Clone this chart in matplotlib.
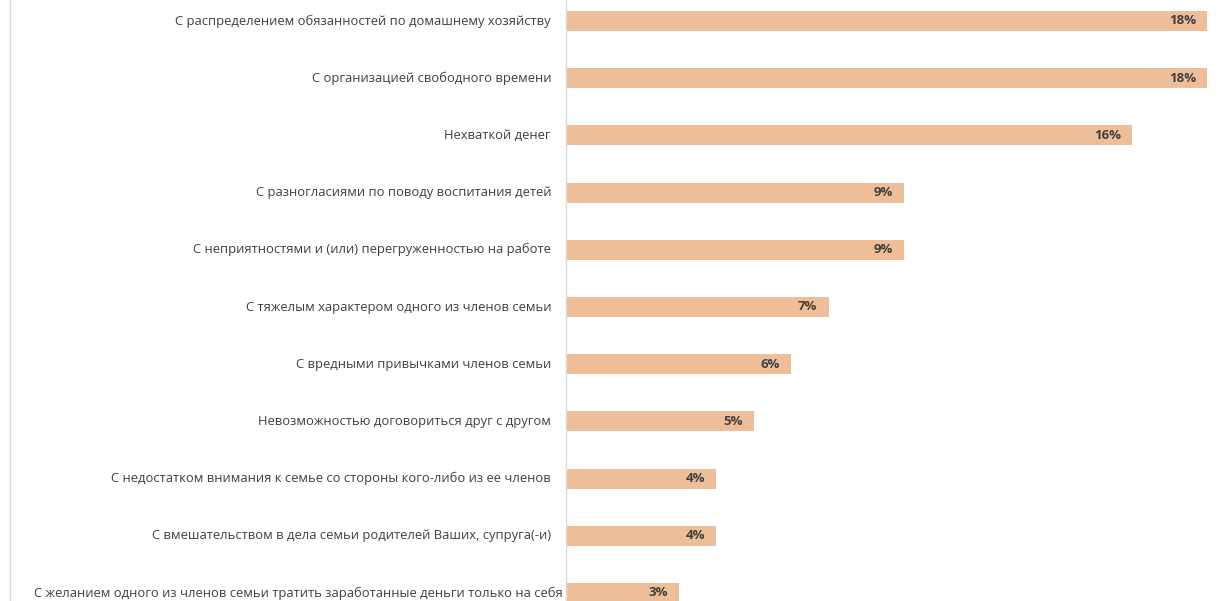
import matplotlib
matplotlib.use("Agg")
import matplotlib.pyplot as plt
from matplotlib.lines import Line2D

plt.rcParams["font.family"] = ["Open Sans", "DejaVu Sans"]

# --- data (top to bottom) ---
categories = [
    "С распределением обязанностей по домашнему хозяйству",
    "С организацией свободного времени",
    "Нехваткой денег",
    "С разногласиями по поводу воспитания детей",
    "С неприятностями и (или) перегруженностью на работе",
    "С тяжелым характером одного из членов семьи",
    "С вредными привычками членов семьи",
    "Невозможностью договориться друг с другом",
    "С недостатком внимания к семье со стороны кого-либо из ее членов",
    "С вмешательством в дела семьи родителей Ваших, супруга(-и)",
    "С желанием одного из членов семьи тратить заработанные деньги только на себя",
]
bar_values = [17.1, 17.1, 15.1, 9.0, 9.0, 7.0, 6.0, 5.0, 4.0, 4.0, 3.0]
value_labels = ["18%", "18%", "16%", "9%", "9%", "7%", "6%", "5%", "4%", "4%", "3%"]

BAR_COLOR = "#EDBE98"
TEXT_COLOR = "#404040"
GRID_COLOR = "#D9D9D9"

W, H = 1225, 601
fig = plt.figure(figsize=(W / 100, H / 100), dpi=100)
ax_left, ax_right = 566, 1215
ax = fig.add_axes([ax_left / W, 0, (ax_right - ax_left) / W, 1])

ypos = list(range(len(categories)))
ax.barh(ypos, bar_values, height=0.35, color=BAR_COLOR, zorder=2)

# pixel mapping: row 0 centre at y=21, spacing 57.2 px
step = 57.2
ax.set_ylim((H - 21) / step, -21 / step)
px = 1 / 37.5  # one pixel in data units along x
ax.set_xlim(0, (ax_right - ax_left) * px)

for y, v, lab in zip(ypos, bar_values, value_labels):
    ax.text(v - 11 * px, y, lab, ha="right", va="center", fontsize=9.5,
            fontweight="bold", color=TEXT_COLOR, zorder=3)

for y, cat in zip(ypos, categories):
    # the longest label overflows the label area, Excel pushes it right
    x_end = -3 * px if y == len(categories) - 1 else -15 * px
    ax.text(x_end, y, cat, ha="right", va="center", fontsize=9.4,
            color=TEXT_COLOR, clip_on=False)

ax.set_xticks([]); ax.set_yticks([])
for s in ["top", "right", "bottom"]:
    ax.spines[s].set_visible(False)
ax.spines["left"].set_color(GRID_COLOR)
ax.spines["left"].set_linewidth(1.0)

# thin frame line at the far left
fig.add_artist(Line2D([10 / W, 10 / W], [0, 1], color=GRID_COLOR, lw=1.0))

fig.savefig("out.png", dpi=100)
